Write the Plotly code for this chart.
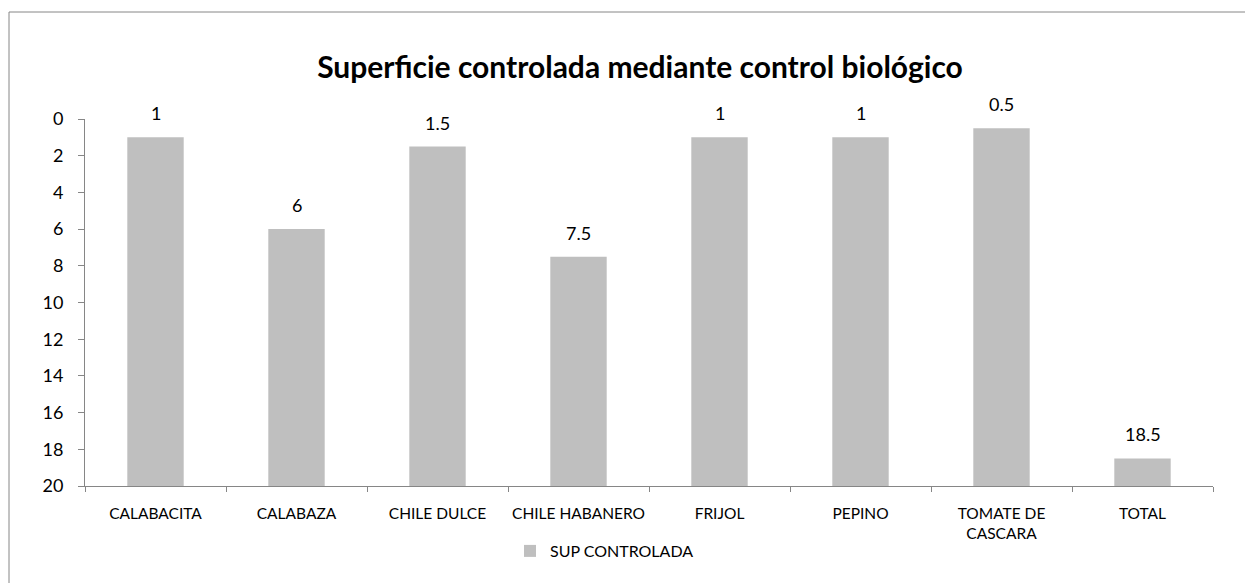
import plotly.graph_objects as go

categories = ["CALABACITA", "CALABAZA", "CHILE DULCE", "CHILE HABANERO", "FRIJOL",
              "PEPINO", "TOMATE DE<br>CASCARA", "TOTAL"]
values = [1, 6, 1.5, 7.5, 1, 1, 0.5, 18.5]
series_name = "SUP CONTROLADA"
axis_max = 20
y_ticks = [0, 2, 4, 6, 8, 10, 12, 14, 16, 18, 20]

# page has an 8px body margin; work in page pixels and convert
OX, OY = 8, 8
PAGE_W, PAGE_H = 1253, 583
W, H = PAGE_W - OX, PAGE_H - OY
plot_left, plot_right, plot_top, plot_bottom = 85, 1213, 119, 486
L, T = plot_left - OX, plot_top - OY
R = W - (plot_right - OX)
B = H - (plot_bottom - OY)
pw, ph = plot_right - plot_left, plot_bottom - plot_top


def px_x(page_x):
    return (page_x - plot_left) / pw


def px_y(page_y):
    return (plot_bottom - page_y) / ph


FONT = "Lato, 'Open Sans', sans-serif"

fig = go.Figure()
fig.add_trace(go.Bar(
    x=categories,
    y=[v - axis_max for v in values],
    base=axis_max,
    marker=dict(color="#BFBFBF", line=dict(width=0)),
    name=series_name,
    showlegend=True,
    hoverinfo="skip",
))

for c, v in zip(categories, values):
    fig.add_annotation(x=c, y=v, text=f"{v:g}", showarrow=False,
                       yanchor="bottom", yshift=11,
                       font=dict(size=18, color="black", family=FONT))

fig.update_layout(
    width=W, height=H,
    margin=dict(l=L, r=R, t=T, b=B, autoexpand=False),
    paper_bgcolor="white", plot_bgcolor="white",
    font=dict(family=FONT, color="black"),
    title=dict(text="<b>Superficie controlada mediante control biológico</b>",
               x=(640 - OX) / W, xanchor="center", y=1 - (67 - OY) / H, yanchor="middle",
               font=dict(size=30, color="black")),
    bargap=0.6,
    showlegend=True,
    legend=dict(orientation="h", x=px_x(510), xanchor="left",
                y=px_y(551), yanchor="middle",
                font=dict(size=16), itemwidth=30, bgcolor="rgba(0,0,0,0)"),
    xaxis=dict(showline=True, linecolor="#868686", linewidth=1,
               ticks="outside", tickson="boundaries", ticklen=5, tickcolor="#868686",
               tickfont=dict(size=15.5), tickangle=0, showgrid=False, automargin=False,
               ticklabelstandoff=13),
    yaxis=dict(range=[axis_max, 0], tickvals=y_ticks, showline=True,
               linecolor="#868686", linewidth=1, ticks="outside", ticklen=6,
               tickcolor="#868686", tickfont=dict(size=18), showgrid=False,
               zeroline=False, ticklabelstandoff=11, automargin=False),
)

# outer chart border
fig.add_shape(type="rect", xref="paper", yref="paper",
              x0=px_x(9), x1=px_x(PAGE_W + 5),
              y0=px_y(PAGE_H + 5), y1=px_y(12),
              line=dict(color="#868686", width=1), fillcolor="rgba(0,0,0,0)",
              layer="below")

fig.write_html("out.html")
